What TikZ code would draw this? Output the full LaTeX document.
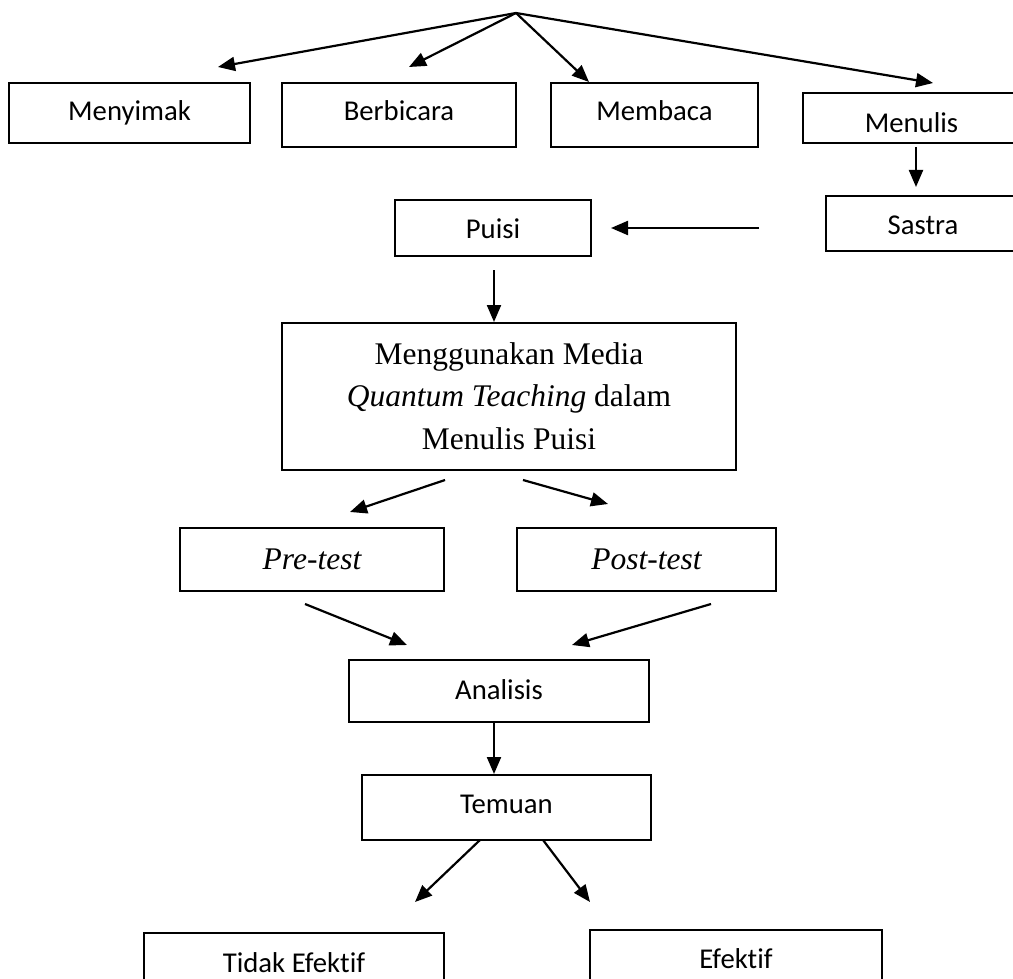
\documentclass[tikz,border=0pt]{standalone}
\usepackage{fontspec}
\newfontfamily\calfont[Ligatures={NoCommon,NoRare,NoDiscretionary,NoContextual}]{Carlito}
\newfontfamily\timesfont{Liberation Serif}
\usetikzlibrary{arrows.meta}
\tikzset{
  box/.style={draw, line width=1.4pt, inner sep=0pt, outer sep=0pt,
    font=\calfont\fontsize{28.7}{34}\selectfont, text depth=0pt},
  tbox/.style={draw, line width=1.4pt, inner sep=0pt, outer sep=0pt,
    font=\timesfont\itshape\fontsize{31.5}{38}\selectfont, text depth=0pt},
  arr/.style={line width=2.2pt, -{Triangle[length=17pt,width=14pt]}}
}
\begin{document}
\begin{tikzpicture}[x=1pt,y=-1pt]
\useasboundingbox (0,0) rectangle (1013,979);
% boxes
\node[box, minimum width=241pt, minimum height=60pt, text height=16pt] (menyimak) at (129.5,113) {Menyimak};
\node[box, minimum width=234pt, minimum height=64pt, text height=12pt] (berbicara) at (399,115) {Berbicara};
\node[box, minimum width=207pt, minimum height=64pt, text height=12pt] (membaca) at (654.5,115) {Membaca};
\node[box, minimum width=217pt, minimum height=50pt, text height=30pt] (menulis) at (911.5,118) {Menulis};
\node[box, minimum width=194pt, minimum height=55pt, text height=23pt] (sastra) at (923,223.5) {Sastra};
\node[box, minimum width=196pt, minimum height=56pt, text height=20pt] (puisi) at (493,228) {Puisi};
\node[draw, line width=1.4pt, inner sep=0pt, outer sep=0pt, minimum width=454pt, minimum height=147pt,
  align=center, font=\timesfont\fontsize{31.5}{42.5}\selectfont, text height=105pt, text depth=0pt]
  (media) at (509,396.5) {Menggunakan Media\\ \textit{Quantum Teaching} dalam\\ Menulis Puisi};
\node[tbox, minimum width=264pt, minimum height=63pt, text height=19pt] (pretest) at (312,559.5) {Pre-test};
\node[tbox, minimum width=259pt, minimum height=63pt, text height=19pt] (posttest) at (646.5,559.5) {Post-test};
\node[box, minimum width=300pt, minimum height=62pt, text height=16pt] (analisis) at (499,691) {Analisis};
\node[box, minimum width=289pt, minimum height=65pt, text height=11pt] (temuan) at (506.5,807.5) {Temuan};
\node[box, minimum width=300pt, minimum height=60pt, text height=18pt] (tidak) at (294,963) {Tidak Efektif};
\node[box, minimum width=292pt, minimum height=60pt, text height=16pt] (efektif) at (736,960) {Efektif};
% connector end points
\coordinate (apex) at (516,13);
\coordinate (t1) at (218,67);
\coordinate (t2) at (409,67);
\coordinate (t3) at (589,82);
\coordinate (t4) at (933,83);
\coordinate (ms1) at (916,147);
\coordinate (ms2) at (916,187);
\coordinate (sp1) at (759,228);
\coordinate (sp2) at (611,228);
\coordinate (pm1) at (494,270);
\coordinate (pm2) at (494,322);
\coordinate (mp1) at (445,480);
\coordinate (mp2) at (350,512);
\coordinate (mq1) at (523,480);
\coordinate (mq2) at (608,504);
\coordinate (pa1) at (305,604);
\coordinate (pa2) at (407,645);
\coordinate (qa1) at (711,604);
\coordinate (qa2) at (572,645);
\coordinate (at1) at (494,722);
\coordinate (at2) at (494,774);
\coordinate (te1) at (480,840);
\coordinate (te2) at (415,902);
\coordinate (tf1) at (543,840);
\coordinate (tf2) at (590,902);
% connectors
\draw[arr] (apex) -- (t1);
\draw[arr] (apex) -- (t2);
\draw[arr] (apex) -- (t3);
\draw[arr] (apex) -- (t4);
\draw[arr] (ms1) -- (ms2);
\draw[arr] (sp1) -- (sp2);
\draw[arr] (pm1) -- (pm2);
\draw[arr] (mp1) -- (mp2);
\draw[arr] (mq1) -- (mq2);
\draw[arr] (pa1) -- (pa2);
\draw[arr] (qa1) -- (qa2);
\draw[arr] (at1) -- (at2);
\draw[arr] (te1) -- (te2);
\draw[arr] (tf1) -- (tf2);
\end{tikzpicture}
\end{document}
